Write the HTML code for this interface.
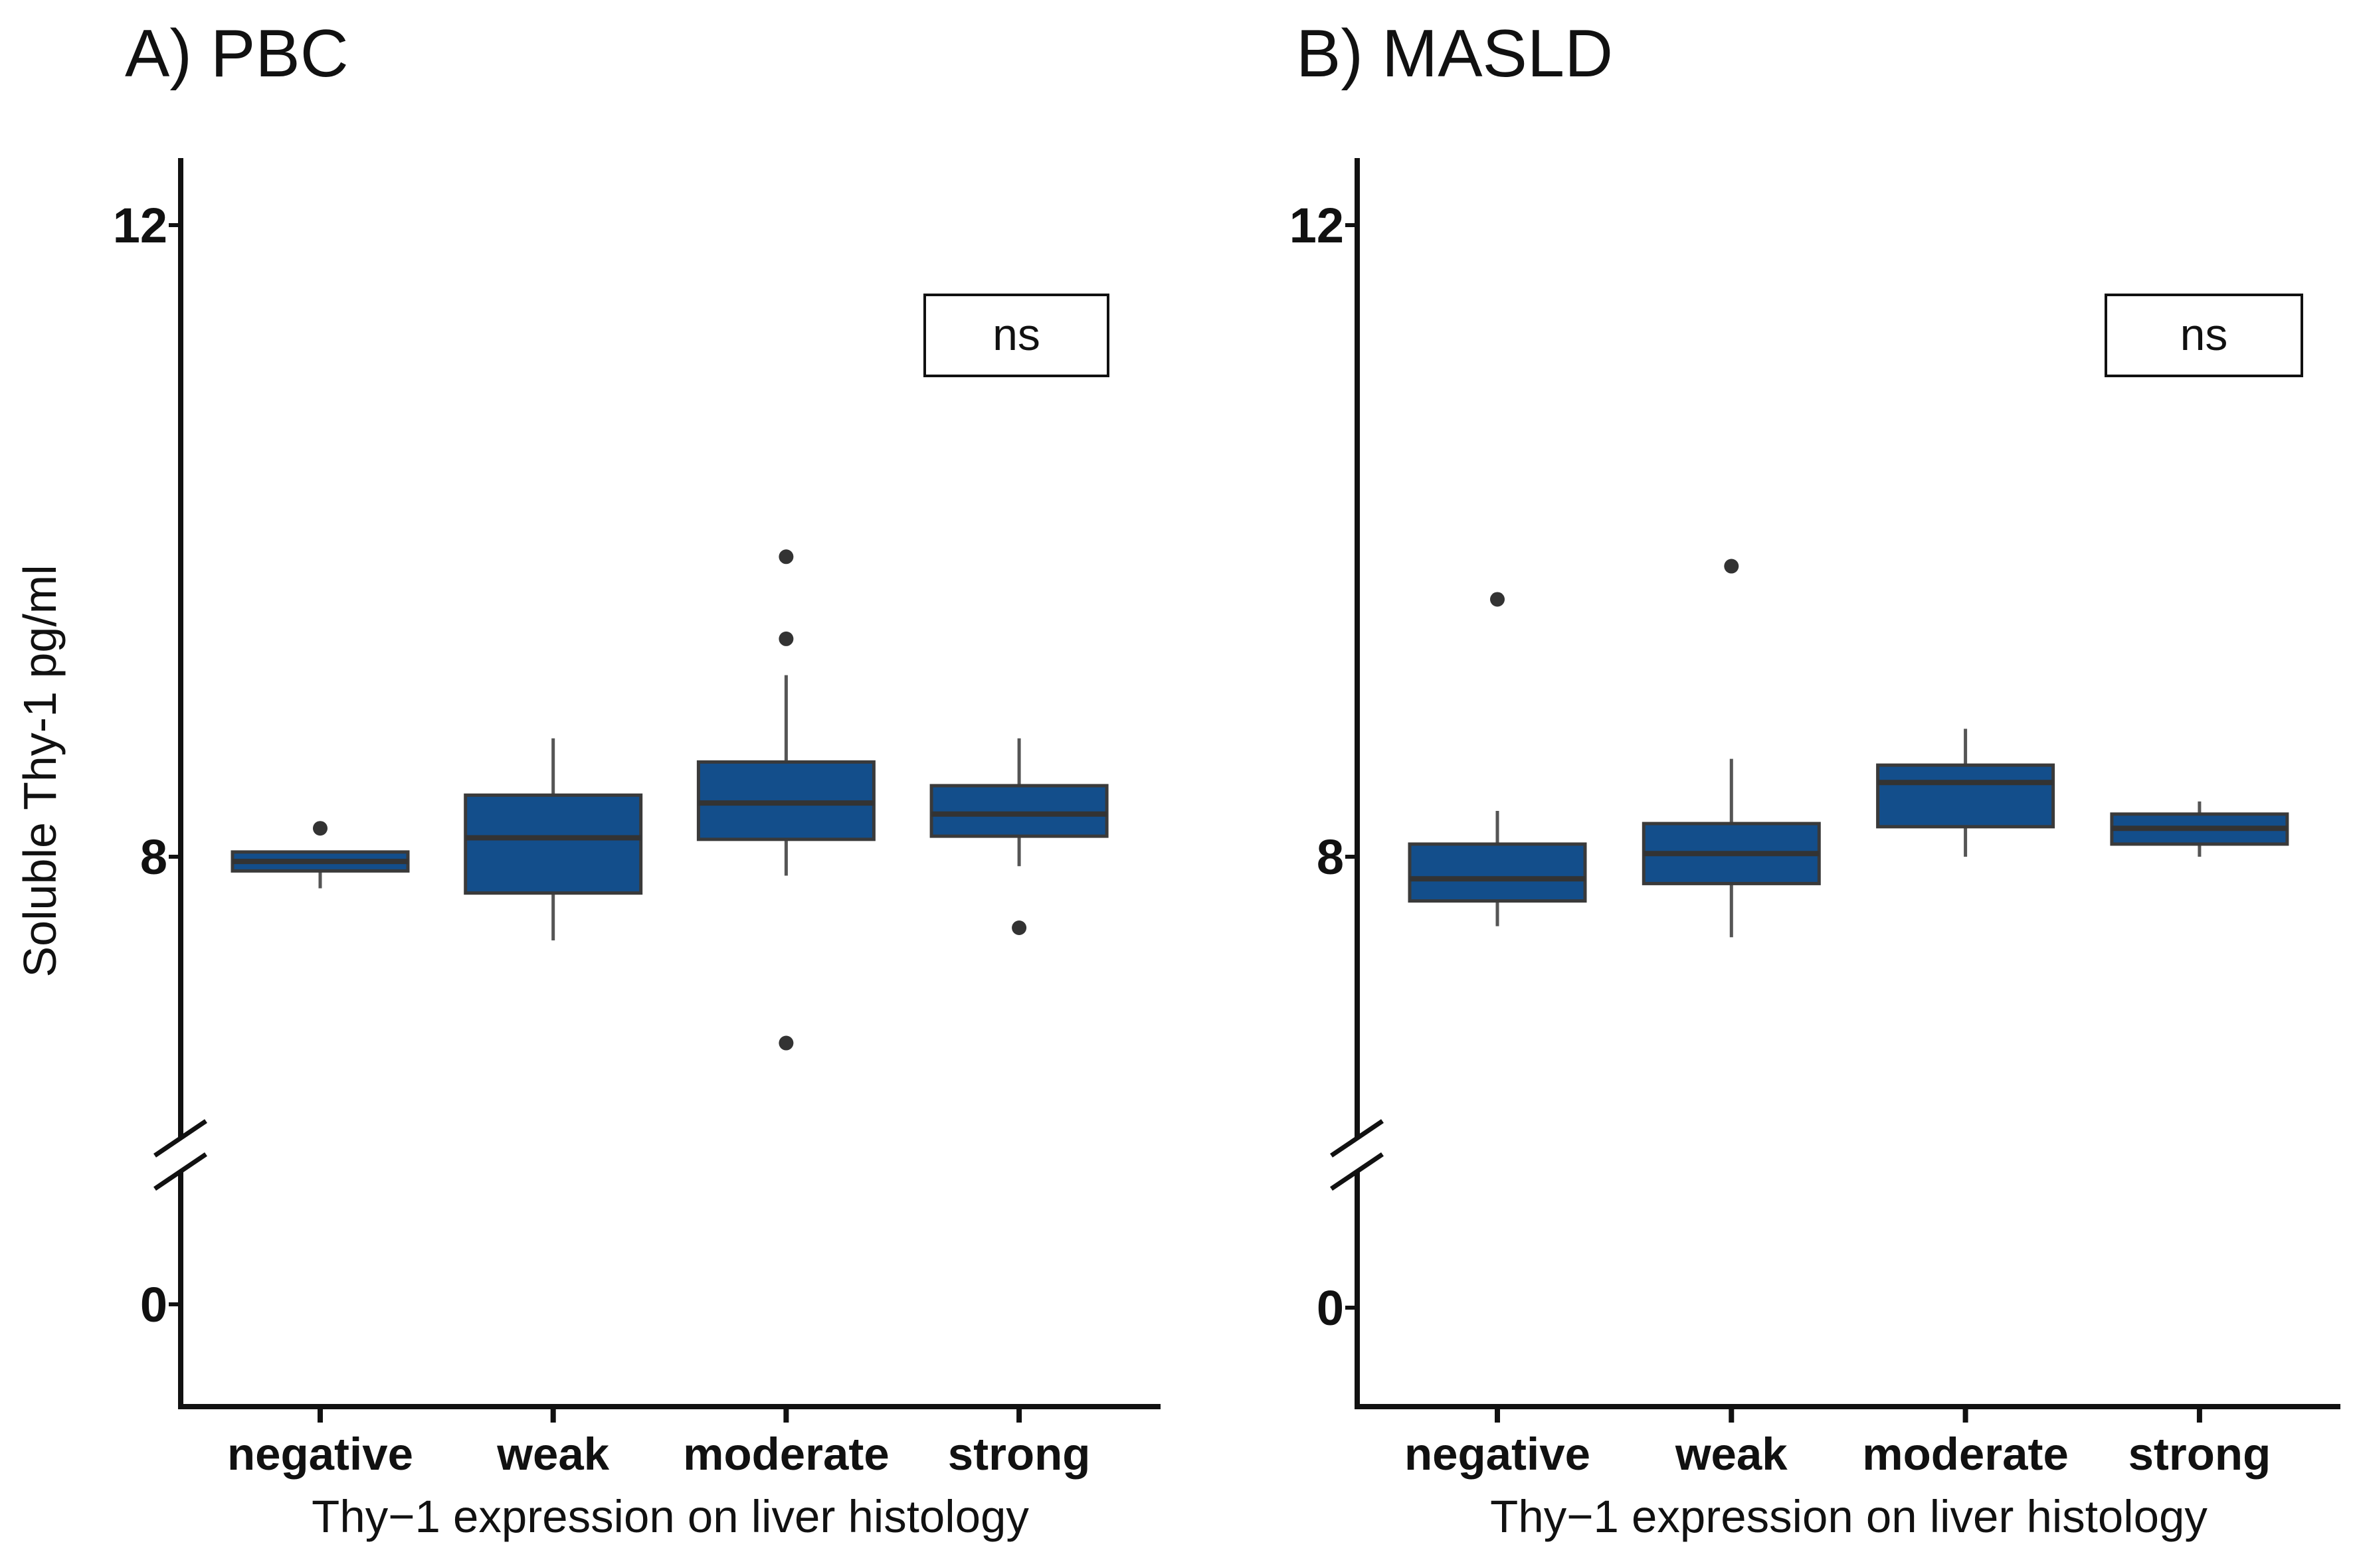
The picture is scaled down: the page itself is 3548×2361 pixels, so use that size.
<!DOCTYPE html>
<html><head><meta charset="utf-8"><style>
html,body{margin:0;padding:0;background:#fff;}
svg{display:block;font-family:"Liberation Sans",Arial,sans-serif;}
</style></head><body>
<svg id="chart" width="3548" height="2361" viewBox="0 0 3548 2361" xmlns="http://www.w3.org/2000/svg"></svg>
<script>
const categories = ["negative","weak","moderate","strong"];
// PBC series
const pbcQ1 = [7.91, 7.77, 8.11, 8.13];
const pbcMedian = [7.97, 8.12, 8.34, 8.27];
const pbcQ3 = [8.03, 8.39, 8.60, 8.45];
const pbcLow = [7.80, 7.47, 7.88, 7.94];
const pbcHigh = [8.03, 8.75, 9.15, 8.75];
const pbcOutliers = [[8.18], [], [9.90, 9.38, 6.82], [7.55]];
// MASLD series
const masldQ1 = [7.72, 7.83, 8.19, 8.08];
const masldMedian = [7.86, 8.02, 8.47, 8.18];
const masldQ3 = [8.08, 8.21, 8.58, 8.27];
const masldLow = [7.56, 7.49, 8.00, 8.00];
const masldHigh = [8.29, 8.62, 8.81, 8.35];
const masldOutliers = [[9.63], [9.84], [], []];
const yTicks = [12, 8, 0];

const svg = document.getElementById('chart');
const NS = 'http://www.w3.org/2000/svg';
function mk(tag, attrs, parent){
  const e = document.createElementNS(NS, tag);
  for (const k in attrs) e.setAttribute(k, attrs[k]);
  (parent||svg).appendChild(e);
  return e;
}

function panel(cfg){
  const g = mk('g', {});
  
  
  const yScale = v => v >= 4 ? 1290 - (v - 8) * (1290 - 339) / 4 : cfg.zeroY - v * 30;
  const xScale = i => cfg.catX0 + i * cfg.catStep;
  const ax = cfg.axisX;
  const t = mk('text', {x: cfg.titleX, y: 115, 'font-size': 101, fill: '#111'}, g);
  t.textContent = cfg.title;
  
  
  const ya = mk('line', {x1: ax, y1: 238, x2: ax, y2: 1713, stroke: '#111', 'stroke-width': 8}, g);
  
  
  const yb = mk('line', {x1: ax, y1: 1763, x2: ax, y2: 2118, stroke: '#111', 'stroke-width': 8}, g);
  
  
  const b1 = mk('line', {x1: ax - 39, y1: 1740, x2: ax + 38, y2: 1688, stroke: '#111', 'stroke-width': 7}, g);
  
  
  const b2 = mk('line', {x1: ax - 39, y1: 1790, x2: ax + 38, y2: 1738, stroke: '#111', 'stroke-width': 7}, g);
  
  
  const xa = mk('line', {x1: ax - 4, y1: 2118, x2: cfg.axisRight, y2: 2118, stroke: '#111', 'stroke-width': 8}, g);
  
  
  yTicks.forEach(v => {
    const y = yScale(v);
    const tk = mk('line', {x1: ax - 18, y1: y, x2: ax, y2: y, stroke: '#111', 'stroke-width': 6}, g);
    
    
    const tl = mk('text', {x: ax - 20, y: y + 26, 'font-size': 74, 'font-weight': 'bold', 'text-anchor': 'end', fill: '#111'}, g);
    tl.textContent = v;
    
    
  });
  categories.forEach((c, i) => {
    const x = xScale(i);
    const tk = mk('line', {x1: x, y1: 2118, x2: x, y2: 2142, stroke: '#111', 'stroke-width': 8}, g);
    
    
    const tl = mk('text', {x: x, y: 2213, 'font-size': 69, 'font-weight': 'bold', 'text-anchor': 'middle', fill: '#111'}, g);
    tl.textContent = c;
    
    
  });
  const xt = mk('text', {x: cfg.xTitleX, y: 2307, 'font-size': 69, 'text-anchor': 'middle', fill: '#111'}, g);
  xt.textContent = 'Thy\u22121 expression on liver histology';
  
  
  const hw = 132;
  categories.forEach((c, i) => {
    const x = xScale(i);
    const w1 = mk('line', {x1: x, y1: yScale(cfg.high[i]), x2: x, y2: yScale(cfg.q3[i]), stroke: '#555', 'stroke-width': 5}, g);
    
    
    const w2 = mk('line', {x1: x, y1: yScale(cfg.q1[i]), x2: x, y2: yScale(cfg.low[i]), stroke: '#555', 'stroke-width': 5}, g);
    
    
    const r = mk('rect', {x: x - hw, y: yScale(cfg.q3[i]), width: 2 * hw, height: yScale(cfg.q1[i]) - yScale(cfg.q3[i]), fill: '#134e8b', stroke: '#3a3a3a', 'stroke-width': 5}, g);
    
    
    const m = mk('line', {x1: x - hw, y1: yScale(cfg.med[i]), x2: x + hw, y2: yScale(cfg.med[i]), stroke: '#333', 'stroke-width': 8}, g);
    
    
    cfg.out[i].forEach(v => {
      const p = mk('circle', {cx: x, cy: yScale(v), r: 11, fill: '#333'}, g);
      
      
    });
  });
  const nb = mk('rect', {x: cfg.nsX, y: 444, width: cfg.nsW, height: 122, fill: '#fff', stroke: '#111', 'stroke-width': 4}, g);
  
  
  const nt = mk('text', {x: cfg.nsX + cfg.nsW / 2, y: 527, 'font-size': 68, 'text-anchor': 'middle', fill: '#111'}, g);
  nt.textContent = 'ns';
  
  
}

panel({name: 'panel-pbc', title: 'A) PBC', titleX: 188, axisX: 272, axisRight: 1747, zeroY: 1964,
  catX0: 482, catStep: 350.7, xTitleX: 1009, nsX: 1392, nsW: 276,
  q1: pbcQ1, med: pbcMedian, q3: pbcQ3, low: pbcLow, high: pbcHigh, out: pbcOutliers});
panel({name: 'panel-masld', title: 'B) MASLD', titleX: 1951, axisX: 2043, axisRight: 3523, zeroY: 1969,
  catX0: 2254, catStep: 352.3, xTitleX: 2783, nsX: 3170, nsW: 295,
  q1: masldQ1, med: masldMedian, q3: masldQ3, low: masldLow, high: masldHigh, out: masldOutliers});

const yl = mk('text', {x: 0, y: 0, 'font-size': 70, 'text-anchor': 'middle', fill: '#111', transform: 'translate(84,1161) rotate(-90)'});
yl.textContent = 'Soluble Thy-1 pg/ml';


</script>
</body></html>
